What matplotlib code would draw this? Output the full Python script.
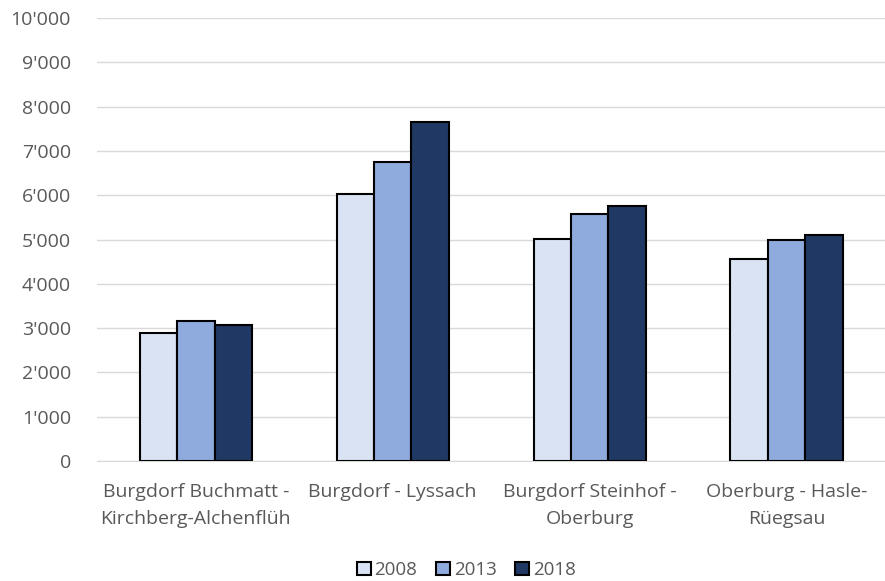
import numpy as np
import matplotlib.pyplot as plt
from matplotlib.ticker import FuncFormatter

# Daten
kategorien = ["Burgdorf Buchmatt -\nKirchberg-Alchenflüh", "Burgdorf - Lyssach",
              "Burgdorf Steinhof -\nOberburg", "Oberburg - Hasle-\nRüegsau"]
jahre = ["2008", "2013", "2018"]
werte_2008 = [2890, 6030, 5020, 4550]
werte_2013 = [3170, 6750, 5570, 5000]
werte_2018 = [3075, 7650, 5750, 5105]
farben = ["#DAE3F3", "#8FAADC", "#1F3864"]

plt.rcParams['font.family'] = ['Open Sans', 'DejaVu Sans']

fig = plt.figure(figsize=(8.85, 5.81), dpi=100)
ax = fig.add_axes([0.11, 0.2065, 0.89, 0.7625])

x = np.arange(len(kategorien))
breite = 0.19
for i, (werte, jahr) in enumerate(zip([werte_2008, werte_2013, werte_2018], jahre)):
    ax.bar(x + (i - 1) * breite, werte, breite, color=farben[i], edgecolor="black",
           linewidth=1.5, label=jahr, zorder=3)

ax.set_ylim(0, 10000)
ax.set_xlim(-0.5, len(kategorien) - 0.5)
ax.set_yticks(range(0, 10001, 1000))
ax.yaxis.set_major_formatter(FuncFormatter(lambda v, p: f"{int(v):,}".replace(",", "'")))
ax.set_xticks(x)
ax.set_xticklabels(kategorien, linespacing=1.6)
ax.grid(axis="y", color="#D9D9D9", linewidth=1, zorder=0)
for s in ["top", "right", "left"]:
    ax.spines[s].set_visible(False)
ax.spines["bottom"].set_color("#D9D9D9")
ax.tick_params(axis="x", length=0, labelsize=14, colors="#595959", pad=16)
ax.tick_params(axis="y", length=0, labelsize=14, colors="#595959", pad=19)

fig.legend(loc="center", bbox_to_anchor=(0.527, 0.019), ncol=3, frameon=False,
           fontsize=13.5, labelcolor="#595959", handlelength=0.75, handleheight=0.75,
           handletextpad=0.2, columnspacing=1.0, borderaxespad=0)

fig.savefig("out.png", dpi=100)
